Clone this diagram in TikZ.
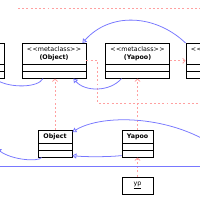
\documentclass[tikz,border=0pt]{standalone}
\usepackage{fontspec}
\setmainfont{DejaVu Sans}
\usepackage{xcolor}
\usetikzlibrary{arrows.meta}
\usetikzlibrary{shapes.multipart}
\definecolor{myblue}{RGB}{120, 120, 255}
\definecolor{mypink}{RGB}{255, 160, 160}

\newcommand{\mtag}{<\kern.08em<metaclass>\kern.08em>}
\newcommand{\clsname}[2]{\vbox to #1{\vss\hbox{\begin{tabular}{@{}c@{}}#2\end{tabular}}\vss}}

\tikzset{
  metabox/.style={rectangle split, rectangle split parts=3, draw, line width=1.2pt,
    fill=white, minimum width=32mm, inner xsep=0pt, inner ysep=0.5mm,
    rectangle split empty part height=0.75mm, rectangle split empty part depth=0pt,
    anchor=north, font=\fontsize{9}{11}\selectfont},
  objbox/.style={draw, line width=1.2pt, fill=white, minimum height=8.5mm,
    inner sep=0pt, font=\fontsize{9}{11}\selectfont},
  inherit/.style={color=myblue, line width=1.1pt, -{Triangle[open, length=2mm, width=2.6mm]}},
  instof/.style={color=mypink, line width=1.1pt, dash pattern=on 2.8pt off 3.2pt,
    -{Straight Barb[length=1.2mm, width=2.6mm]}},
}

\begin{document}
\begin{tikzpicture}[x=0.5mm, y=-0.5mm]
\useasboundingbox (0,0) rectangle (200,200);
\clip (0,0) rectangle (200,200);

% metaclasses
\node[metabox] (lb) at (-28,43) {\clsname{9.25mm}{\strut}};
\node[metabox] (mo) at (54,43) {\clsname{9.25mm}{\mtag\\\textbf{(Object)}}};
\node[metabox] (my) at (137.5,43) {\clsname{9.25mm}{\mtag\\\textbf{(Yapoo)}}};
\node[metabox] (mr) at (218,43) {\clsname{9.25mm}{\mtag\\\strut}};

% classes
\node[metabox, minimum width=17mm] (obj) at (55,130) {\clsname{5.25mm}{\textbf{Object}}};
\node[metabox, minimum width=15.5mm] (yap) at (137.5,130) {\clsname{5.25mm}{\textbf{Yapoo}}};

% instance
\node[objbox, minimum width=15.5mm] (inst) at (137.5,185.5) {\underline{yp}};

\coordinate (tl) at (18,8);
\coordinate (tr) at (205,8);
\coordinate (mr2) at (205,103);
\coordinate (offr) at (205,140);
\coordinate (offl) at (-3,149);
\coordinate (ll) at (-5,166);
\coordinate (lr) at (205,166);

% instance of
\draw[instof] (obj.north) -- (obj.north |- mo.south);
\draw[instof] (yap.north) -- (my.south);
\draw[instof] (inst.north) -- (yap.south);
\draw[instof] (my.east) -- (mr.west);
\draw[instof] (mo.east) -- ++(11,0) |- (mr2);
\draw[instof] (tl) -- (tr);

% inheritance
\draw[inherit] (mr.north west) .. controls (155,14) and (110,12) .. ([xshift=-2mm]mo.north east);
\draw[inherit] ([xshift=-5.5mm]mo.south) .. controls (38,88) and (10,88) .. ([xshift=-5mm]lb.south east);
\draw[inherit] ([xshift=-8mm]my.south) .. controls (110,92) and (85,92) .. ([xshift=-6.5mm]mo.south east);
\draw[inherit] (offr) .. controls (160,115) and (100,115) .. ([yshift=-1mm]obj.north east);
\draw[inherit] ([yshift=1mm]yap.south west) .. controls (110,157) and (85,157) .. ([yshift=1mm]obj.south east);
\draw[inherit] ([xshift=2mm]obj.south west) .. controls (38,162) and (12,160) .. (offl);
\draw[color=myblue, line width=1.1pt] (ll) -- (lr);

\end{tikzpicture}
\end{document}
